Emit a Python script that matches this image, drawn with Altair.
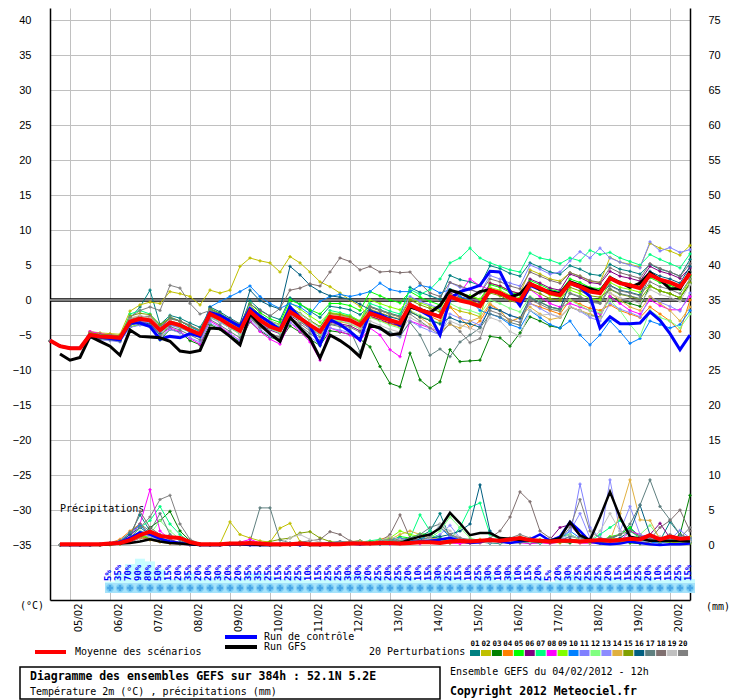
import pandas as pd
import altair as alt

MONO = "DejaVu Sans Mono"
SANS = "Liberation Sans"

# échéances de 6 h : indice 0 = 04/02/2012 12h ... indice 64 = 20/02/2012 12h
JOURS = ["05/02", "06/02", "07/02", "08/02", "09/02", "10/02", "11/02", "12/02",
         "13/02", "14/02", "15/02", "16/02", "17/02", "18/02", "19/02", "20/02"]
MINUITS = list(range(2, 63, 4))

NUMEROS = ["01", "02", "03", "04", "05", "06", "07", "08", "09", "10",
           "11", "12", "13", "14", "15", "16", "17", "18", "19", "20"]
COULEURS = ["#008080", "#c0c000", "#008000", "#ff8000", "#00ff00", "#800080", "#00ff80",
            "#ff00ff", "#80ff00", "#0080ff", "#8080ff", "#80ff80", "#8c8cff", "#e0b040",
            "#80a000", "#005f80", "#5f7f7f", "#7f6f6f", "#c0c0c0", "#808080"]

# température 2m (°C)
MOYENNE = [-5.8, -6.6, -6.9, -6.9, -5.0, -5.2, -5.3, -5.4, -3.1, -2.7, -2.9, -4.3, -3.2, -3.6, -4.3, -4.9,
           -2.0, -2.7, -3.6, -4.4, -1.6, -2.9, -3.8, -4.3, -1.7, -2.6, -3.6, -4.5, -2.4, -2.6, -2.9, -3.6,
           -1.9, -2.4, -2.9, -3.3, -0.7, -1.4, -1.9, -2.4, 0.5, -0.1, -0.4, -0.9, 1.4, 1.0, 0.3, -0.1,
           2.3, 1.7, 1.0, 0.7, 2.4, 1.9, 1.2, 1.0, 3.1, 2.4, 2.1, 1.7, 3.6, 2.9, 2.5, 1.9, 3.8]
GFS = [None, -7.7, -8.6, -8.2, -5.2, -5.9, -6.6, -7.9, -4.3, -5.2, -5.3, -5.4, -5.9, -7.3, -7.5, -7.2,
       -4.0, -4.1, -5.2, -6.4, -2.0, -3.5, -4.8, -5.9, -2.5, -4.0, -5.5, -8.3, -5.0, -5.8, -6.8, -8.1,
       -3.6, -4.0, -5.0, -4.8, -1.0, -1.4, -1.8, -0.8, 1.4, 1.0, 0.3, 1.2, 1.5, 0.9, 0.4, 0.9,
       2.4, 1.5, 1.2, 0.9, 2.6, 2.1, 1.6, 1.2, 3.2, 2.5, 1.8, 2.4, 3.9, 2.9, 1.6, 1.6, 4.1]
CONTROLE = [-5.8, -6.6, -6.9, -6.9, -5.0, -5.3, -5.5, -5.7, -3.3, -3.3, -3.8, -5.6, -5.2, -5.4, -4.8, -5.2,
            -1.8, -2.2, -3.0, -3.8, -1.2, -2.3, -3.2, -4.2, -1.0, -2.5, -3.8, -6.4, -2.8, -3.5, -4.5, -5.7,
            -1.7, -2.1, -2.8, -3.6, -0.9, -1.5, -2.3, -5.0, 0.2, 1.2, 1.6, 2.1, 4.1, 4.0, 1.2, -0.8,
            2.1, 1.5, 1.2, 0.9, 2.4, 1.8, 0.5, -4.0, -2.4, -3.4, -3.4, -3.3, -1.7, -2.9, -4.8, -7.1, -5.0]

P01 = [-5.8, -6.6, -6.9, -6.9, -4.7, -4.9, -5.0, -5.1, -2.6, -1.0, 1.4, -3.5, -2.2, -2.6, -3.3, -3.9,
       -1.5, -2.2, -3.1, -3.9, -0.1, -1.4, -2.3, -2.8, 0.3, -0.6, -1.6, -2.5, -0.9, -1.1, -1.4, -2.1,
       -0.9, -1.4, -1.9, -2.3, 1.8, 1.1, 0.6, 0.1, 3.5, 2.9, 2.6, 2.1, 4.9, 4.5, 3.8, 3.4,
       5.3, 4.7, 4.0, 3.7, 4.9, 4.4, 3.7, 3.5, 5.1, 4.4, 4.1, 3.7, 5.1, 4.4, 4.0, 3.4, 5.8]
P02 = [-5.8, -6.6, -6.9, -6.9, -4.5, -4.7, -4.8, -4.9, -1.6, -0.7, -0.3, -0.5, 1.2, 0.9, 0.5, -0.7,
       1.4, 1.0, 1.4, 4.8, 6.0, 5.6, 5.3, 4.0, 6.2, 5.3, 4.0, 2.6, 1.9, 1.0, 0.0, -0.9,
       -2.4, -2.9, -3.4, -3.8, -1.7, -2.4, -2.9, -3.4, -1.0, -1.6, -1.9, -2.4, 2.4, 2.0, 1.3, 0.9,
       4.3, 3.7, 3.0, 2.7, 3.9, 3.4, 2.7, 2.5, 6.1, 5.4, 5.1, 4.7, 8.1, 7.4, 7.0, 6.4, 7.8]
P03 = [-5.8, -6.6, -6.9, -6.9, -5.3, -5.5, -5.6, -5.8, -3.9, -3.5, -3.7, -5.7, -4.2, -4.6, -5.8, -6.4,
       -3.5, -4.2, -5.1, -6.0, -3.1, -4.4, -5.3, -5.8, -3.7, -4.6, -5.6, -6.5, -4.4, -4.6, -4.9, -5.6,
       -6.7, -9.5, -11.9, -12.4, -7.6, -11.4, -12.6, -11.7, -7.1, -8.8, -8.7, -8.6, -5.2, -5.4, -6.6, -4.7,
       -2.4, -3.0, -3.7, -4.0, -1.0, -1.5, -2.2, -2.4, 0.5, -0.2, -0.5, -0.9, 2.0, 1.3, 0.9, 0.3, 2.3]
P04 = [-5.8, -6.6, -6.9, -6.9, -4.6, -4.8, -5.0, -5.1, -2.6, -2.3, -2.5, -3.9, -2.4, -3.0, -3.8, -4.5,
       -2.3, -3.0, -3.9, -4.7, -1.8, -3.1, -4.0, -4.5, -1.9, -2.8, -3.8, -4.7, -2.9, -3.1, -3.4, -4.1,
       -2.4, -2.9, -3.4, -3.8, -0.9, -1.6, -2.3, -3.0, -1.0, -2.5, -4.0, -3.0, -0.7, -1.5, -3.1, -2.5,
       -0.5, -1.0, -1.5, -2.0, 0.0, -0.6, -1.2, -1.5, -0.7, -1.5, -2.0, -2.5, -1.0, -2.0, -3.0, -4.5, 0.0]
P05 = [-5.8, -6.6, -6.9, -6.9, -4.9, -5.1, -5.2, -5.3, -3.0, -2.6, -2.8, -4.2, -3.0, -3.4, -4.1, -4.7,
       -1.2, -1.9, -2.8, -3.6, -0.5, -1.8, -2.7, -3.2, 0.0, -0.6, -1.4, -2.0, -0.5, -0.5, -0.8, -1.5,
       1.2, 0.6, 0.0, -0.4, 1.2, 0.4, -0.2, -0.7, 1.5, 0.9, 0.6, 0.1, 2.2, 1.8, 1.1, 0.7,
       2.8, 2.2, 1.5, 1.2, 3.0, 2.5, 1.8, 1.6, 3.3, 2.6, 2.3, 1.9, 3.2, 2.5, 2.1, 1.5, 3.5]
P06 = [-5.8, -6.6, -6.9, -6.9, -5.1, -5.3, -5.4, -5.6, -3.3, -2.9, -3.1, -4.6, -3.5, -3.9, -4.6, -5.2,
       -2.4, -3.1, -4.0, -4.8, -2.1, -3.4, -4.3, -4.8, -2.2, -3.1, -4.1, -5.0, -3.2, -3.4, -3.7, -4.4,
       -2.3, -2.8, -3.3, -3.7, -0.5, -1.2, -1.7, -2.2, 1.0, 0.4, 0.1, -0.4, 2.4, 2.0, 1.3, 0.9,
       3.0, 2.4, 1.7, 1.4, 3.7, 3.2, 2.5, 2.3, 4.1, 3.4, 3.1, 2.7, 4.8, 4.1, 3.7, 3.1, 4.6]
P07 = [-5.8, -6.6, -6.9, -6.9, -4.8, -5.0, -5.2, -5.3, -2.0, -1.5, -2.0, -3.6, -2.5, -3.0, -3.8, -4.4,
       -1.5, -2.4, -3.2, -4.0, -1.0, -2.4, -3.4, -3.8, -1.0, -2.0, -3.0, -3.8, -1.5, -1.8, -2.2, -3.0,
       -0.5, -1.0, -1.6, -2.0, 1.5, 0.8, 1.5, 3.0, 5.3, 6.0, 7.4, 6.0, 5.3, 4.8, 4.3, 4.0,
       6.7, 6.0, 5.7, 5.2, 6.0, 5.6, 7.1, 6.5, 6.8, 6.0, 5.5, 5.0, 6.5, 5.8, 5.2, 4.6, 6.6]
P08 = [-5.8, -6.6, -6.9, -6.9, -4.5, -4.8, -5.0, -5.2, -3.5, -3.0, -3.4, -5.0, -4.0, -4.5, -5.5, -6.3,
       -3.0, -3.8, -4.8, -5.8, -3.0, -4.5, -5.6, -6.3, -3.2, -4.5, -6.0, -8.6, -4.0, -4.5, -5.0, -5.8,
       -4.0, -5.0, -7.1, -8.1, -3.0, -3.5, -4.0, -4.5, 0.0, 1.0, 3.0, 2.0, 1.5, 1.0, 0.0, -0.5,
       1.5, 0.5, -0.5, -1.0, -0.5, -1.0, -1.5, -2.0, 0.5, -0.5, -1.5, -2.0, 0.0, -0.8, -1.4, -1.4, 0.5]
P09 = [-5.8, -6.6, -6.9, -6.9, -5.0, -5.2, -5.4, -5.5, -3.8, -3.5, -3.8, -5.4, -3.3, -3.7, -4.4, -5.0,
       -1.5, -2.2, -3.1, -3.9, -0.9, -2.2, -3.1, -3.6, -0.4, -1.3, -2.3, -3.2, -1.8, -2.0, -2.3, -3.0,
       0.0, -0.5, -1.0, -1.4, 0.3, -0.4, -0.9, -1.4, 1.5, 0.9, 0.6, 0.1, 1.8, 1.4, 0.7, 0.3,
       2.0, 1.4, 0.7, 0.4, 1.4, 0.9, 0.2, 0.0, 2.5, 1.8, 1.5, 1.1, 2.0, 1.3, 0.9, 0.3, 3.0]
P10 = [-5.8, -6.6, -6.9, -6.9, -4.8, -5.0, -5.2, -5.3, -2.9, -2.6, -2.8, -4.1, -2.5, -3.0, -3.8, -4.5,
       -1.0, -0.2, 0.5, 1.2, 2.0, 0.5, -0.5, -1.2, -0.5, -1.0, -2.0, -0.2, 0.5, 0.8, 0.5, 0.8,
       1.2, 2.4, 1.5, 1.2, 1.2, 2.1, 1.8, 1.0, 1.5, 0.5, 0.0, -1.5, -2.0, -2.5, -3.5, -4.0,
       -1.5, -2.5, -3.5, -4.0, -3.0, -5.0, -6.4, -5.0, -3.0, -4.5, -6.2, -5.5, -3.0, -3.5, -4.0, -3.5, -1.5]
P11 = [-5.8, -6.6, -6.9, -6.9, -5.2, -5.4, -5.6, -5.7, -3.4, -3.0, -3.3, -4.6, -3.6, -4.0, -4.6, -5.2,
       -2.5, -3.2, -4.0, -4.8, -2.0, -3.3, -4.2, -4.7, -2.0, -3.0, -4.0, -4.9, -2.0, -2.2, -2.6, -3.2,
       -1.0, -1.5, -2.0, -2.4, 0.5, -0.2, -0.7, -1.2, 2.5, 1.8, 1.5, 1.0, 3.5, 3.0, 2.4, 2.0,
       5.0, 4.4, 3.7, 4.0, 5.6, 6.9, 6.0, 7.4, 6.0, 5.4, 5.0, 4.6, 8.3, 7.0, 7.5, 6.8, 7.2]
P12 = [-5.8, -6.6, -6.9, -6.9, -5.1, -5.3, -5.5, -5.6, -3.2, -2.9, -3.1, -4.6, -3.4, -3.9, -4.6, -5.3,
       -2.4, -3.1, -4.0, -4.9, -1.9, -3.2, -4.1, -4.7, -2.0, -3.0, -4.0, -5.0, -2.8, -3.0, -3.4, -4.1,
       -2.5, -3.0, -3.6, -4.0, -1.5, -2.2, -2.8, -3.3, -0.5, -1.2, -1.5, -2.0, 0.0, -0.5, -1.2, -1.7,
       0.5, -0.2, -1.0, -1.5, 0.0, -0.8, -1.5, -1.8, 0.0, -1.5, -3.5, -5.2, -1.5, -2.5, -3.0, -4.0, -2.0]
P13 = [-5.8, -6.6, -6.9, -6.9, -5.4, -5.7, -5.8, -6.0, -3.9, -3.6, -3.8, -5.3, -4.2, -4.7, -5.4, -6.0,
       -3.3, -4.0, -4.9, -5.8, -2.8, -4.2, -5.2, -5.8, -3.2, -4.2, -5.3, -6.3, -4.0, -4.3, -4.7, -5.5,
       -3.6, -4.2, -4.8, -5.3, -3.0, -3.8, -4.4, -5.0, -2.0, -2.6, -3.0, -3.6, -1.0, -1.5, -2.2, -2.7,
       -0.5, -1.2, -2.0, -2.5, -1.0, -1.6, -2.5, -3.0, -0.5, -1.3, -1.8, -2.4, 0.5, -0.3, -0.9, -1.6, 1.0]
P14 = [-5.8, -6.6, -6.9, -6.9, -5.0, -5.2, -5.3, -5.4, -2.8, -2.5, -2.7, -4.1, -3.0, -3.4, -4.1, -4.7,
       -1.7, -2.4, -3.3, -4.1, -1.4, -2.7, -3.6, -4.1, -1.5, -2.4, -3.4, -4.3, -2.0, -2.2, -2.5, -3.2,
       -1.3, -1.8, -2.3, -2.7, -1.5, -2.5, -3.5, -4.5, -3.5, -4.0, -3.0, -2.5, -0.5, -1.5, -3.1, -2.5,
       -1.0, -2.0, -2.8, -2.5, -1.0, -1.5, -2.0, -2.5, 1.0, 0.0, -1.0, -1.5, 0.5, -0.5, -1.5, -3.0, -1.0]
P15 = [-5.8, -6.6, -6.9, -6.9, -4.7, -4.9, -5.0, -5.1, -2.3, -1.9, -2.1, -3.5, -2.6, -3.0, -3.7, -4.3,
       -1.3, -2.0, -2.9, -3.7, -0.8, -2.1, -3.0, -3.5, -1.0, -1.9, -2.9, -3.8, -1.9, -2.1, -2.4, -3.1,
       -1.0, -1.5, -2.0, -2.4, 0.0, -0.7, -1.2, -1.7, 0.8, 0.2, -0.1, -0.6, 1.0, 0.6, -0.1, -0.5,
       1.5, 0.9, 0.2, -0.1, 1.8, 1.3, 0.6, 0.4, 1.5, 0.8, 0.5, 0.1, 2.0, 1.3, 0.9, 0.3, 2.5]
P16 = [-5.8, -6.6, -6.9, -6.9, -5.3, -5.5, -5.6, -5.7, -3.6, -3.2, -3.4, -4.8, -3.2, -3.6, -4.3, -4.9,
       -1.0, -1.7, -2.6, -3.4, 1.4, -0.1, -0.8, -1.3, 4.8, 3.6, 2.1, 1.2, 0.6, 0.4, 0.1, -0.6,
       -1.4, -1.9, -2.4, -2.8, -1.7, -2.4, -2.9, -3.4, -2.5, -3.1, -3.4, -3.9, -1.1, -1.5, -2.2, -2.6,
       0.3, -0.3, -1.0, -1.3, 2.4, 1.9, 1.2, 1.0, 2.1, 1.4, 1.1, 0.7, 4.1, 3.4, 3.0, 2.4, 4.8]
P17 = [-5.8, -6.6, -6.9, -6.9, -5.2, -5.5, -5.7, -5.9, -3.5, -3.2, -3.6, -5.0, -3.8, -4.3, -5.0, -5.7,
       -2.8, -3.6, -4.5, -5.4, -2.4, -3.8, -4.8, -5.3, -2.7, -3.7, -4.8, -5.8, -3.5, -3.8, -4.3, -7.4,
       -3.4, -4.0, -4.6, -5.1, -3.2, -5.0, -7.9, -7.0, -8.1, -6.0, -5.0, -4.0, -2.0, -2.4, -3.2, -3.6,
       0.3, -0.3, -1.0, -1.3, 0.9, 0.4, -0.3, -0.5, 1.6, 0.9, 0.6, 0.2, 3.6, 2.9, 2.5, 1.9, 4.0]
P18 = [-5.8, -6.6, -6.9, -6.9, -5.0, -5.3, -5.4, -5.5, -2.8, -2.4, -2.3, -3.8, -2.7, -3.0, -3.6, -4.3,
       -1.3, -2.0, -2.8, -3.5, -0.6, -1.5, -2.3, -1.2, 1.4, 1.7, 2.3, 2.0, 4.0, 6.0, 5.5, 4.3,
       4.8, 4.0, 4.1, 3.9, 4.0, 2.4, 1.0, 0.5, 2.5, 2.0, 1.5, 1.0, 3.0, 2.6, 2.0, 1.6,
       4.0, 3.4, 2.8, 2.4, 3.9, 3.4, 2.8, 2.5, 4.6, 3.9, 3.5, 3.1, 5.2, 4.5, 4.0, 3.4, 5.2]
P19 = [-5.8, -6.6, -6.9, -6.9, -4.9, -5.1, -5.2, -5.3, -2.6, -2.2, -2.6, -4.0, -3.0, -3.5, -4.2, -4.8,
       -2.2, -3.0, -3.9, -4.7, -1.0, -2.2, -3.0, -3.6, -1.2, -2.0, -3.0, -4.0, -2.5, -2.8, -3.3, -4.0,
       -3.0, -3.6, -4.2, -4.6, -2.5, -3.3, -3.9, -4.5, -3.0, -3.6, -4.0, -4.6, -2.5, -3.0, -4.5, -5.2,
       -1.5, -2.2, -2.0, -2.4, -0.9, -1.5, -2.2, -2.6, 1.0, 0.3, 0.0, -0.5, 1.5, 0.8, 0.4, -0.2, 2.2]
P20 = [-5.8, -6.6, -6.9, -6.9, -4.9, -5.0, -5.1, -5.2, -2.5, -1.5, -1.0, -1.5, 2.1, 1.7, -0.5, -2.0,
       -1.5, -2.2, -3.1, -3.9, -2.6, -3.9, -4.8, -5.3, -2.5, -3.4, -4.4, -5.3, -3.4, -3.6, -3.9, -4.6,
       -1.0, -1.5, -2.0, -2.4, -2.0, -3.0, -4.0, -5.0, -3.3, -4.5, -6.1, -5.5, -1.5, -2.0, -2.8, -3.2,
       0.0, -0.6, -1.3, -1.6, 1.0, 0.5, -0.2, -0.4, 2.0, 1.3, 1.0, 0.6, 2.6, 1.9, 1.5, 0.9, 3.0]

# précipitations (mm), indices 1 à 64
PR_MOYENNE = [0.1, 0.1, 0.1, 0.1, 0.1, 0.2, 0.3, 0.7, 1.4, 1.9, 1.3, 1.1, 1.0, 0.4, 0.1, 0.1,
              0.1, 0.2, 0.2, 0.3, 0.2, 0.1, 0.1, 0.1, 0.2, 0.1, 0.1, 0.1, 0.1, 0.2, 0.2, 0.2,
              0.3, 0.3, 0.2, 0.3, 0.4, 0.4, 0.3, 0.5, 0.6, 0.5, 0.6, 0.7, 0.6, 0.8, 1.0, 0.7,
              0.6, 0.5, 0.6, 0.6, 0.5, 0.6, 0.7, 0.6, 0.7, 0.9, 0.8, 1.4, 0.8, 1.2, 0.9, 1.0]
PR_GFS = [0.0, 0.0, 0.0, 0.0, 0.0, 0.1, 0.2, 0.3, 0.5, 0.8, 0.5, 0.3, 0.2, 0.1, 0.0, 0.0,
          0.0, 0.1, 0.1, 0.1, 0.0, 0.0, 0.0, 0.1, 0.1, 0.0, 0.0, 0.1, 0.1, 0.2, 0.2, 0.3,
          0.2, 0.2, 0.3, 0.8, 1.2, 1.5, 2.4, 4.6, 3.1, 1.4, 1.7, 1.7, 1.0, 0.9, 0.7, 0.6,
          0.5, 0.6, 1.0, 3.3, 1.4, 0.7, 4.0, 7.6, 4.0, 1.2, 0.9, 0.6, 0.6, 0.6, 0.6, 0.5]
PR_CONTROLE = [0.0, 0.0, 0.0, 0.0, 0.1, 0.2, 0.4, 1.0, 1.8, 1.5, 0.9, 0.5, 0.3, 0.1, 0.0, 0.0,
               0.0, 0.1, 0.1, 0.0, 0.0, 0.0, 0.1, 0.1, 0.0, 0.1, 0.1, 0.2, 0.1, 0.2, 0.1, 0.2,
               0.2, 0.3, 0.2, 0.4, 0.5, 0.6, 0.8, 1.0, 0.6, 0.3, 0.4, 0.8, 0.5, 0.3, 0.5, 0.8,
               1.5, 0.6, 1.2, 3.3, 2.0, 0.5, 0.2, 0.1, 0.2, 0.5, 0.3, 0.1, 0.0, 0.1, 0.1, 0.2]
PR_P01 = [0, 0, 0, 0, 0, 0.1, 0.3, 1.5, 4.3, 2.0, 1.0, 0.6, 0.3, 0.1, 0, 0,
          0, 0.1, 0.2, 0.1, 0, 0, 0, 0.1, 0.1, 0, 0, 0, 0.1, 0.2, 0.3, 0.2,
          0.1, 0.3, 0.5, 0.8, 1.2, 2.0, 4.5, 1.0, 0.6, 0.4, 0.5, 0.3, 0.2, 0.6, 0.4, 0.3,
          0.3, 0.5, 0.6, 0.8, 0.5, 0.3, 0.6, 0.8, 1.5, 2.5, 1.2, 0.8, 0.6, 3.3, 1.5, 0.8]
PR_P02 = [0, 0, 0, 0, 0, 0, 0.2, 0.6, 1.2, 0.8, 0.5, 0.3, 0.2, 0.1, 0, 0.1,
          0.2, 3.3, 1.5, 1.0, 0.6, 0.4, 2.4, 3.1, 0.5, 0.2, 0.1, 0, 0.1, 0.2, 0.1, 0.1,
          0.2, 0.3, 0.2, 0.4, 0.6, 0.5, 0.3, 0.4, 0.3, 0.5, 0.8, 0.5, 0.4, 0.6, 1.2, 0.8,
          0.5, 0.4, 0.3, 0.6, 1.0, 0.8, 0.5, 0.4, 0.6, 0.5, 1.5, 0.8, 0.6, 0.4, 0.7, 1.2]
PR_P03 = [0, 0, 0, 0, 0, 0.1, 0.2, 0.5, 1.2, 2.5, 3.5, 4.8, 2.0, 0.6, 0.2, 0.1,
          0, 0.2, 0.3, 0.1, 0, 0, 0.1, 0.1, 0, 0, 0.1, 0.1, 0.2, 0.1, 0.1, 0.2,
          0.3, 0.2, 0.4, 0.5, 0.3, 0.6, 0.8, 0.5, 0.4, 0.6, 0.5, 0.3, 0.8, 0.6, 0.5, 0.4,
          0.3, 0.5, 0.4, 0.3, 0.6, 0.4, 0.8, 0.5, 0.6, 0.3, 0.2, 0.4, 0.3, 0.5, 1.5, 7.1]
PR_P04 = [0, 0, 0, 0, 0.1, 0.3, 0.8, 2.0, 3.0, 1.5, 0.6, 0.3, 0.2, 0.1, 0, 0,
          0.1, 0.1, 0.2, 0.1, 0, 0.1, 0, 0, 0.1, 0.2, 0.2, 0.3, 0.4, 0.2, 0.1, 0.3,
          0.8, 1.2, 0.6, 0.5, 0.4, 0.6, 0.5, 0.3, 0.2, 0.3, 0.4, 0.6, 0.5, 0.8, 0.6, 0.5,
          0.7, 0.4, 0.6, 0.5, 0.3, 0.4, 0.6, 0.5, 0.4, 0.6, 0.5, 0.3, 0.4, 0.6, 0.5, 0.3]
PR_P05 = [0, 0, 0, 0, 0, 0.1, 0.2, 0.8, 1.5, 1.0, 0.6, 0.4, 0.2, 0.1, 0, 0,
          0.1, 0.2, 0.1, 0, 0, 0, 0.1, 0.1, 0.2, 0.1, 0, 0.1, 0.2, 0.4, 0.6, 0.3,
          0.5, 0.6, 1.2, 1.0, 1.6, 1.5, 0.8, 0.6, 0.5, 0.4, 0.6, 0.8, 0.6, 0.5, 0.4, 0.8,
          0.6, 0.5, 1.2, 1.5, 0.8, 0.6, 0.5, 1.2, 1.5, 2.5, 0.8, 0.5, 0.6, 0.4, 0.5, 0.3]
PR_P06 = [0, 0, 0, 0, 0, 0.1, 0.2, 0.4, 1.0, 0.8, 0.5, 0.3, 0.1, 0, 0, 0,
          0, 0.1, 0.1, 0, 0, 0, 0, 0, 0.1, 0, 0, 0, 0.1, 0.1, 0.2, 0.1,
          0.2, 0.3, 0.2, 0.4, 0.6, 0.4, 0.3, 0.5, 0.4, 0.3, 0.5, 0.6, 0.4, 0.3, 0.5, 0.4,
          0.6, 0.8, 2.5, 2.9, 1.2, 0.5, 0.3, 0.6, 0.8, 0.6, 1.2, 1.5, 3.1, 1.0, 0.8, 0.5]
PR_P07 = [0, 0, 0, 0, 0, 0.1, 0.3, 1.0, 2.5, 3.5, 5.5, 3.0, 1.5, 0.4, 0.1, 0,
          0, 0.1, 0.1, 0, 0, 0.1, 0, 0.1, 0.1, 0.2, 0.1, 0.2, 0.3, 0.2, 0.4, 0.6,
          0.8, 0.5, 0.6, 1.0, 4.3, 2.0, 1.0, 0.8, 2.5, 5.4, 6.0, 1.5, 0.8, 0.6, 1.0, 0.8,
          0.6, 0.5, 1.0, 1.5, 0.8, 0.6, 1.5, 2.5, 3.5, 2.0, 1.0, 0.8, 0.6, 0.5, 1.2, 0.8]
PR_P08 = [0, 0, 0, 0, 0, 0.1, 0.5, 1.2, 3.0, 7.9, 2.0, 0.8, 0.3, 0.1, 0, 0,
          0.1, 0.2, 0.4, 0.8, 0.3, 0.1, 0, 0, 0, 0.1, 0, 0.1, 0.1, 0.2, 0.1, 0.1,
          0.2, 0.1, 0.2, 0.3, 0.2, 0.4, 0.5, 0.3, 0.2, 0.4, 0.3, 0.5, 0.6, 0.4, 0.3, 0.2,
          0.3, 0.2, 0.4, 0.5, 0.3, 0.2, 0.4, 0.3, 0.5, 2.0, 1.5, 0.8, 0.5, 0.3, 0.6, 0.4]
PR_P09 = [0, 0, 0, 0, 0, 0.1, 0.2, 0.6, 1.4, 1.0, 0.8, 0.5, 0.3, 0.1, 0, 0,
          0.2, 0.3, 0.2, 0.1, 0.2, 0.1, 0, 0.1, 0.1, 0.2, 0.3, 0.2, 0.1, 0.2, 0.3, 0.4,
          0.6, 1.0, 2.0, 1.5, 1.2, 0.8, 0.5, 0.4, 0.6, 0.5, 0.4, 0.3, 0.5, 0.4, 0.3, 0.6,
          0.8, 0.5, 0.4, 0.6, 0.5, 0.3, 0.6, 1.0, 0.8, 0.5, 0.4, 0.6, 0.5, 0.3, 0.4, 0.8]
PR_P10 = [0, 0, 0, 0, 0.1, 0.3, 0.6, 1.8, 2.8, 1.6, 0.8, 0.4, 0.2, 0.1, 0, 0,
          0, 0.1, 0, 0, 0, 0.1, 0.1, 0, 0, 0.1, 0.2, 0.3, 0.5, 0.4, 0.6, 0.3,
          0.5, 0.8, 1.0, 0.6, 0.8, 1.5, 2.5, 1.2, 0.8, 0.6, 0.4, 0.3, 0.6, 0.8, 0.5, 0.4,
          0.3, 0.5, 0.8, 2.0, 1.0, 0.5, 0.3, 0.6, 0.8, 1.2, 0.6, 0.4, 0.3, 0.5, 0.4, 0.6]
PR_P11 = [0, 0, 0, 0, 0, 0.1, 0.2, 0.6, 1.6, 1.2, 0.7, 0.4, 0.2, 0.1, 0, 0,
          0, 0.1, 0.1, 0, 0, 0, 0, 0.1, 0.1, 0.2, 0.1, 0.1, 0.2, 0.3, 0.2, 0.3,
          0.5, 0.4, 0.8, 0.6, 0.5, 0.4, 0.8, 1.2, 0.8, 0.6, 0.5, 0.4, 0.6, 0.5, 0.8, 0.6,
          0.5, 0.6, 0.8, 1.2, 8.7, 2.5, 1.0, 0.8, 0.6, 0.8, 0.6, 0.5, 0.6, 0.8, 2.1, 1.0]
PR_P12 = [0, 0, 0, 0, 0, 0.1, 0.2, 0.8, 2.0, 1.5, 3.5, 2.0, 0.8, 0.3, 0.1, 0,
          0, 0.1, 0.1, 0, 0, 0.1, 0, 0, 0.1, 0.1, 0.2, 0.1, 0.1, 0.2, 0.3, 0.2,
          0.4, 0.6, 0.5, 0.4, 0.6, 1.0, 2.0, 4.0, 2.5, 1.0, 0.6, 0.5, 0.4, 0.3, 0.5, 0.4,
          0.3, 0.4, 0.5, 0.6, 0.4, 0.3, 0.8, 0.6, 0.5, 0.6, 1.5, 2.8, 1.0, 0.6, 0.5, 0.4]
PR_P13 = [0, 0, 0, 0, 0, 0.1, 0.3, 0.9, 1.8, 1.1, 0.6, 0.3, 0.1, 0, 0, 0,
          0, 0, 0.1, 0, 0, 0, 0, 0, 0, 0.1, 0.1, 0.2, 0.3, 0.2, 0.1, 0.2,
          0.3, 0.2, 0.4, 0.5, 0.6, 0.8, 1.5, 2.8, 1.0, 0.6, 0.4, 0.3, 0.5, 0.4, 0.3, 0.5,
          0.6, 0.8, 1.2, 2.0, 4.5, 1.0, 0.6, 9.3, 2.0, 5.5, 1.5, 1.0, 0.8, 0.6, 1.2, 0.8]
PR_P14 = [0, 0, 0, 0, 0, 0.1, 0.2, 0.5, 1.0, 0.7, 0.4, 0.2, 0.1, 0, 0, 0,
          0, 0.1, 0, 0, 0, 0, 0, 0, 0.1, 0, 0.1, 0.2, 0.4, 0.5, 0.6, 0.3,
          0.5, 0.8, 1.5, 2.0, 1.5, 1.0, 0.8, 0.6, 0.5, 0.4, 0.3, 0.5, 0.4, 0.3, 0.4, 0.5,
          0.6, 0.5, 0.4, 0.6, 0.8, 0.5, 0.4, 0.6, 4.5, 9.3, 3.6, 3.5, 0.8, 0.6, 0.5, 0.4]
PR_P15 = [0, 0, 0, 0, 0, 0.1, 0.2, 0.7, 1.3, 0.9, 0.6, 0.4, 0.2, 0.1, 0, 0,
          0.1, 0.2, 0.4, 0.3, 0.2, 0.5, 0.8, 1.0, 1.7, 1.9, 1.0, 0.5, 0.3, 0.2, 0.1, 0.2,
          0.3, 0.5, 0.4, 0.3, 0.5, 0.6, 0.4, 0.3, 0.5, 0.4, 0.6, 0.8, 0.5, 0.3, 0.4, 0.6,
          0.5, 0.3, 0.4, 0.5, 0.6, 0.4, 0.3, 0.5, 0.4, 0.6, 1.0, 0.8, 0.5, 0.4, 0.3, 0.5]
PR_P16 = [0, 0, 0, 0, 0.1, 0.2, 0.5, 1.5, 2.5, 1.5, 0.8, 0.4, 0.2, 0.1, 0, 0,
          0, 0, 0.1, 0, 0, 0, 0.1, 0, 0, 0.1, 0.2, 0.1, 0.2, 0.3, 0.2, 0.3,
          0.4, 0.3, 0.5, 0.6, 0.8, 1.0, 1.2, 1.5, 2.0, 3.0, 8.6, 2.0, 0.8, 0.5, 0.4, 0.6,
          0.5, 0.4, 0.6, 0.8, 0.6, 0.5, 0.4, 0.6, 1.0, 2.0, 5.7, 1.5, 0.8, 0.6, 0.5, 0.4]
PR_P17 = [0, 0, 0, 0, 0.1, 0.2, 0.4, 1.8, 3.0, 2.0, 4.5, 1.5, 0.6, 0.2, 0.1, 0,
          0, 0.1, 0.2, 0.5, 5.3, 5.3, 0.7, 0.3, 0.2, 0.1, 0.1, 0.2, 0.1, 0.2, 0.3, 0.2,
          0.4, 0.6, 0.8, 1.0, 1.5, 2.5, 3.0, 1.5, 0.8, 0.6, 0.5, 0.4, 0.6, 0.5, 0.4, 0.3,
          0.5, 0.8, 0.6, 1.2, 1.0, 0.8, 0.6, 1.0, 1.5, 3.0, 5.7, 9.3, 5.5, 3.6, 1.5, 1.0]
PR_P18 = [0, 0, 0, 0, 0, 0.1, 0.3, 1.0, 4.8, 2.5, 1.5, 0.8, 0.3, 0.1, 0, 0,
          0.1, 0.2, 0.3, 0.1, 0, 0, 0.1, 0.2, 0.4, 0.6, 0.8, 1.9, 1.5, 0.6, 0.3, 0.2,
          0.5, 1.5, 4.3, 1.0, 0.6, 0.4, 0.5, 0.6, 0.8, 0.5, 0.6, 1.0, 2.0, 4.0, 7.6, 6.2,
          2.0, 1.0, 0.6, 0.5, 0.4, 0.6, 0.8, 1.0, 1.5, 2.0, 1.2, 0.8, 2.5, 3.5, 5.0, 2.0]
PR_P19 = [0, 0, 0, 0, 0, 0.1, 0.3, 0.8, 1.8, 1.2, 0.8, 0.5, 0.2, 0.1, 0, 0,
          0, 0.1, 0, 0, 0.1, 0, 0.2, 1.0, 1.5, 0.8, 0.4, 0.2, 0.1, 0.2, 0.3, 0.2,
          0.6, 1.2, 0.8, 0.5, 0.6, 1.0, 3.0, 2.0, 1.0, 0.6, 0.5, 0.4, 0.3, 0.5, 0.6, 0.4,
          0.5, 0.8, 1.0, 1.5, 0.8, 0.6, 2.0, 4.5, 2.0, 1.0, 0.6, 0.5, 1.2, 0.8, 0.6, 0.5]
PR_P20 = [0, 0, 0, 0, 0, 0.1, 0.3, 1.0, 2.5, 4.0, 6.5, 7.1, 3.0, 0.8, 0.2, 0,
          0, 0.1, 0.2, 0.1, 0, 0.1, 0, 0, 0.1, 0.2, 0.1, 0.3, 0.5, 0.4, 0.2, 0.3,
          0.6, 0.8, 0.5, 0.4, 0.6, 1.2, 2.5, 1.5, 1.0, 0.8, 0.6, 0.5, 0.8, 1.0, 1.5, 1.0,
          0.6, 0.5, 0.8, 2.5, 6.5, 2.0, 1.0, 0.8, 0.6, 0.8, 1.0, 0.6, 0.8, 1.5, 1.0, 2.5]

# probabilité de précipitations (%), indices 6 à 64
PROBA = [5, 35, 70, 90, 80, 50, 15, 20, 35, 20, 20, 30, 20, 20, 35, 35, 25, 15, 25, 25,
         10, 15, 25, 25, 30, 30, 20, 25, 20, 25, 20, 10, 15, 30, 25, 15, 10, 25, 30, 10,
         30, 10, 15, 20, 5, 20, 30, 25, 25, 25, 20, 15, 15, 25, 20, 10, 15, 25, 15]

PERTS_T = [P01, P02, P03, P04, P05, P06, P07, P08, P09, P10,
           P11, P12, P13, P14, P15, P16, P17, P18, P19, P20]
PERTS_P = [PR_P01, PR_P02, PR_P03, PR_P04, PR_P05, PR_P06, PR_P07, PR_P08, PR_P09, PR_P10,
           PR_P11, PR_P12, PR_P13, PR_P14, PR_P15, PR_P16, PR_P17, PR_P18, PR_P19, PR_P20]


def table(valeurs, debut, serie):
    return pd.DataFrame([{"i": debut + k, "v": v, "serie": serie}
                         for k, v in enumerate(valeurs) if v is not None])


t_perts = pd.concat([table(v, 0, n) for n, v in zip(NUMEROS, PERTS_T)])
p_perts = pd.concat([table(v, 1, n) for n, v in zip(NUMEROS, PERTS_P)])


# conversions page -> unités des échelles (page y = 300 - 7 * °C, page x = 50 + 10 * indice)
def py_t(y):
    return (300 - y) / 7


def px_i(x):
    return (x - 50) / 10


proba = pd.DataFrame({"i": list(range(6, 65)), "p": PROBA})
proba["lab"] = proba["p"].astype(str) + "%"
proba["ix"] = proba["i"] - 0.2
proba["x1"] = proba["i"] - 0.5
proba["x2"] = proba["i"] + 0.5
proba["b0"] = py_t(583)
proba["b1"] = py_t(583) + proba["p"] * 0.27 / 7
proba["n0"] = py_t(583)
proba["n1"] = py_t(593)

ECH_X = alt.Scale(domain=[0, 64], nice=False, zero=False)
ECH_T = alt.Scale(domain=[py_t(600), py_t(8)], nice=False, zero=False)
ECH_P = alt.Scale(domain=[py_t(600) + 35, py_t(8) + 35], nice=False, zero=False)

expr_jours = "[" + ",".join(f"'{j}'" for j in JOURS) + "][(datum.value - 2) / 4]"
AXE_X = alt.Axis(values=MINUITS, labelExpr=expr_jours, title=None, grid=True, gridColor="#c0c0c0",
                 ticks=False, domainColor="black", domainWidth=1.5, labelAngle=270, labelPadding=3,
                 labelOffset=8, labelFont="DejaVu Sans", labelFontSize=10, labelColor="black",
                 labelOverlap=False, labelFlush=False)
AXE_T = alt.Axis(values=list(range(-35, 41, 5)), title=None, grid=True, gridColor="#c0c0c0",
                 ticks=False, domainColor="black", domainWidth=1.5, labelPadding=19, labelFont=SANS,
                 labelFontSize=11, labelColor="black", orient="left", labelFlush=False)
AXE_P = alt.Axis(values=list(range(0, 76, 5)), title=None, grid=False, ticks=False,
                 domainColor="black", domainWidth=1.5, labelPadding=18, labelFont=SANS,
                 labelFontSize=11, labelColor="black", orient="right", labelFlush=False)


def ex(champ):
    return alt.X(f"{champ}:Q", scale=ECH_X, axis=AXE_X)


def et(champ):
    return alt.Y(f"{champ}:Q", scale=ECH_T, axis=AXE_T)


def ep(champ):
    return alt.Y(f"{champ}:Q", scale=ECH_P, axis=AXE_P)


COUL = alt.Color("serie:N", scale=alt.Scale(domain=NUMEROS, range=COULEURS), legend=None)

barres = alt.Chart(proba).mark_rect(color="#c8fcff").encode(
    x=ex("x1"), x2="x2:Q", y=et("b0"), y2="b1:Q")
neige_bande = alt.Chart(proba).mark_rect(color="#a6e2fa").encode(
    x=ex("x1"), x2="x2:Q", y=et("n0"), y2="n1:Q")
flocons_fond = alt.Chart(proba).mark_point(shape="circle", filled=True, size=70,
                                           color="#7fd0f5", opacity=1).encode(x=ex("i"), y=alt.value(580))
flocons = alt.Chart(proba).mark_point(shape="cross", filled=True, size=34,
                                      color="#4aa6e6", opacity=1).encode(x=ex("i"), y=alt.value(580))
pourcents = alt.Chart(proba).mark_text(angle=270, align="left", baseline="middle", font=MONO,
                                       fontSize=9, fontWeight="bold", color="#0000ff").encode(
    x=ex("ix"), y=alt.value(573), text="lab:N")

zero = pd.DataFrame({"z": [0]})
zero_noir = alt.Chart(zero).mark_rule(color="black", strokeWidth=3.6).encode(y=et("z"))
zero_blanc = alt.Chart(zero).mark_rule(color="white", strokeWidth=1.2).encode(y=et("z"))

t_lignes = alt.Chart(t_perts).mark_line(strokeWidth=1).encode(x=ex("i"), y=et("v"), color=COUL)
t_points = alt.Chart(t_perts).mark_point(shape="cross", filled=True, size=10, opacity=1).encode(
    x=ex("i"), y=et("v"), color=COUL)
t_ctrl = alt.Chart(table(CONTROLE, 0, "c")).mark_line(color="#0000ff", strokeWidth=3).encode(
    x=ex("i"), y=et("v"))
t_gfs = alt.Chart(table(GFS, 0, "g")).mark_line(color="black", strokeWidth=3).encode(x=ex("i"), y=et("v"))
t_moy = alt.Chart(table(MOYENNE, 0, "m")).mark_line(color="#ff0000", strokeWidth=4).encode(
    x=ex("i"), y=et("v"))

p_lignes = alt.Chart(p_perts).mark_line(strokeWidth=1).encode(x=ex("i"), y=ep("v"), color=COUL)
p_points = alt.Chart(p_perts).mark_point(shape="cross", filled=True, size=10, opacity=1).encode(
    x=ex("i"), y=ep("v"), color=COUL)
p_ctrl = alt.Chart(table(PR_CONTROLE, 1, "c")).mark_line(color="#0000ff", strokeWidth=2.5).encode(
    x=ex("i"), y=ep("v"))
p_gfs = alt.Chart(table(PR_GFS, 1, "g")).mark_line(color="black", strokeWidth=2.5).encode(
    x=ex("i"), y=ep("v"))
p_moy = alt.Chart(table(PR_MOYENNE, 1, "m")).mark_line(color="#ff0000", strokeWidth=4).encode(
    x=ex("i"), y=ep("v"))


def texte(s, x, y, taille=10, gras=False):
    return alt.Chart(pd.DataFrame({"t": [s]})).mark_text(
        align="left", baseline="middle", font=MONO, fontSize=taille,
        fontWeight="bold" if gras else "normal", color="black").encode(
        text="t:N", x=alt.value(x - 50), y=alt.value(y - 8))


def trait(couleur, x1, x2, y):
    return alt.Chart(pd.DataFrame({"t": [couleur]})).mark_rule(color=couleur, strokeWidth=4).encode(
        x=alt.value(x1 - 50), x2=alt.value(x2 - 50), y=alt.value(y - 8))


legende = pd.DataFrame({"serie": NUMEROS})
legende["x1"] = [px_i(470 + 10.95 * k) for k in range(20)]
legende["x2"] = legende["x1"] + 1.0
legende["xc"] = legende["x1"] + 0.5
legende["y1"] = py_t(650)
legende["y2"] = py_t(656)
legende["yn"] = py_t(644)
cases = alt.Chart(legende).mark_rect().encode(x=ex("x1"), x2="x2:Q", y=et("y1"), y2="y2:Q", color=COUL)
numeros = alt.Chart(legende).mark_text(font=MONO, fontSize=7.5, fontWeight="bold", color="black").encode(
    x=ex("xc"), y=et("yn"), text="serie:N")

cadre = alt.Chart(pd.DataFrame({"t": [0]})).mark_rect(fillOpacity=0, stroke="black", strokeWidth=1.5).encode(
    x=alt.value(20 - 50), x2=alt.value(440 - 50), y=alt.value(667 - 8), y2=alt.value(699 - 8))

annotations = [
    texte("Précipitations", 60, 509),
    texte("(°C)", 20, 606),
    texte("(mm)", 706, 607),
    trait("#ff0000", 35, 66, 652),
    texte("Moyenne des scénarios", 75, 652),
    trait("#0000ff", 225, 257, 637),
    texte("Run de contrôle", 264, 637),
    trait("black", 225, 257, 647),
    texte("Run GFS", 264, 647),
    texte("20 Perturbations", 369, 652),
    cases, numeros, cadre,
    texte("Diagramme des ensembles GEFS sur 384h : 52.1N 5.2E", 30, 677, 11.5, True),
    texte("Température 2m (°C) , précipitations (mm)", 30, 692),
    texte("Ensemble GEFS du 04/02/2012 - 12h", 450, 672),
    texte("Copyright 2012 Meteociel.fr", 450, 692, 11.5, True),
]

groupe_t = alt.layer(barres, neige_bande, flocons_fond, flocons, pourcents, zero_noir, zero_blanc,
                     t_lignes, t_points, t_ctrl, t_gfs, t_moy, *annotations)
groupe_p = alt.layer(p_lignes, p_points, p_ctrl, p_gfs, p_moy)

chart = alt.layer(groupe_t, groupe_p).resolve_scale(y="independent").properties(
    width=640,
    height=592,
    padding={"left": 42, "top": 0, "right": 42, "bottom": 100},
    autosize=alt.AutoSizeParams(type="none"),
    background="white",
).configure_view(stroke=None)

chart.save("out.html", embed_options={"renderer": "svg", "actions": False})
